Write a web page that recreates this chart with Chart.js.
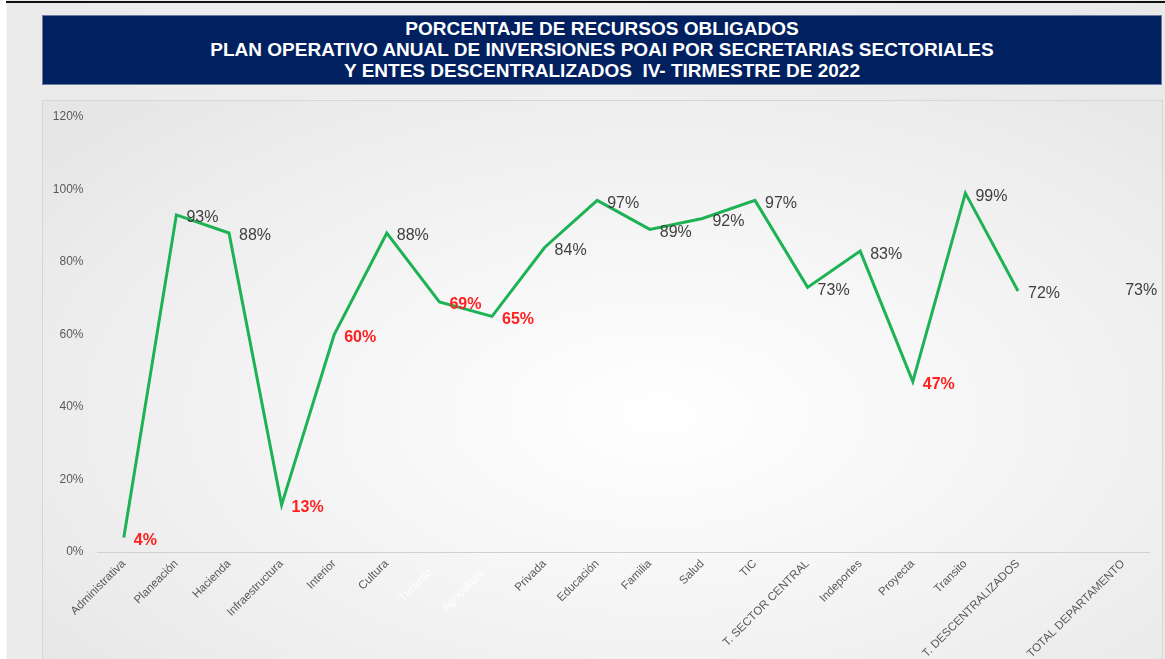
<!DOCTYPE html>
<html>
<head>
<meta charset="utf-8">
<script src="https://cdn.jsdelivr.net/npm/chart.js@4.4.1/dist/chart.umd.min.js"></script>
<style>
  html, body { margin:0; padding:0; }
  body { width:1165px; height:659px; position:relative; overflow:hidden;
         background: linear-gradient(90deg, #ffffff 0px, #ffffff 6px, #ebebeb 7px, #eeeeee 600px, #e9e9e9 1165px); }
  #topline { position:absolute; left:6px; top:1px; width:1159px; height:2px; background:#111; }
  #title { position:absolute; left:42px; top:15px; width:1120px; height:70px; box-sizing:border-box;
           background:#002060; border:1px solid #6a7aa0; color:#fff;
           font-family:"Liberation Sans", Arial, sans-serif; font-weight:bold; font-size:19px;
           line-height:21px; text-align:center; padding-top:2px; }
  #panel { position:absolute; left:42px; top:100px; width:1121px; height:570px; box-sizing:border-box;
           border:1px solid #d6d6d6;
           background: radial-gradient(ellipse 70% 75% at 55% 55%, #ffffff 0%, #f6f6f6 40%, #ececec 80%, #e6e6e6 100%); }
  #wrap { position:absolute; left:43px; top:100px; width:1120px; height:559px; }
</style>
</head>
<body>
<div id="topline"></div>
<div id="title">PORCENTAJE DE RECURSOS OBLIGADOS<br>PLAN OPERATIVO ANUAL DE INVERSIONES POAI POR SECRETARIAS SECTORIALES<br>Y ENTES DESCENTRALIZADOS&nbsp; IV- TIRMESTRE DE 2022</div>
<div id="panel"></div>
<div id="wrap"><canvas id="c" width="1120" height="559"></canvas></div>
<script>
const categories = ["Administrativa","Planeación","Hacienda","Infraestructura","Interior","Cultura",
  "Turismo ...","Agricultura ...","Privada","Educación","Familia","Salud","TIC","T. SECTOR CENTRAL",
  "Indeportes","Proyecta","Transito","T. DESCENTRALIZADOS","","TOTAL DEPARTAMENTO"];
const percentObligado = [4,93,88,13,60,88,69,65,84,97,89,92,97,73,83,47,99,72,null,73];
const hiddenLabels = ["Turismo ...","Agricultura ..."];
const redThreshold = 70;
const yTicks = [0,20,40,60,80,100,120];

const labelPlugin = {
  id:'valueLabels',
  afterDatasetsDraw(chart){
    const ctx = chart.ctx;
    const meta = chart.getDatasetMeta(0);
    const data = chart.data.datasets[0].data;
    ctx.save();
    ctx.textBaseline = 'middle';
    ctx.textAlign = 'left';
    meta.data.forEach((pt,i)=>{
      const v = data[i];
      if (v===null || v===undefined) return;
      const red = v < redThreshold;
      const isolated = i > 0 && data[i-1] === null;
      ctx.font = (red ? 'bold ' : '') + '16px "Liberation Sans", Arial, sans-serif';
      ctx.fillStyle = red ? '#ff2020' : '#404040';
      ctx.fillText(v + '%', pt.x + (isolated ? 2 : 10), pt.y + 3);
    });
    ctx.restore();
  }
};

new Chart(document.getElementById('c'), {
  type:'line',
  data:{ labels:categories, datasets:[{ data:percentObligado, borderColor:'#1db355', borderWidth:3,
         pointRadius:0, pointHoverRadius:0, tension:0, spanGaps:false, fill:false }]},
  options:{
    responsive:false, animation:false,
    layout:{ padding:{ left:0, right:13.5, top:17, bottom:0 } },
    plugins:{ legend:{display:false}, tooltip:{enabled:false} },
    scales:{
      x:{ type:'category', offset:true,
          grid:{ display:false, drawTicks:false },
          border:{ display:true, color:'#d0d0d0', width:1 },
          ticks:{ autoSkip:false, maxRotation:45, minRotation:45, padding:5,
                  font:{ family:'"Liberation Sans", Arial, sans-serif', size:11.5 },
                  color:(c)=> hiddenLabels.includes(categories[c.index]) ? '#ffffff' : '#595959' },
          afterFit(s){ s.height = 107; } },
      y:{ min:0, max:120,
          grid:{ display:false, drawTicks:false },
          border:{ display:false },
          afterBuildTicks(s){ s.ticks = yTicks.map(v=>({value:v})); },
          ticks:{ padding:14, callback:(v)=> v + '%',
                  font:{ family:'"Liberation Sans", Arial, sans-serif', size:12 }, color:'#595959' },
          afterFit(s){ s.width = 54.5; s.paddingTop = 0; s.paddingBottom = 0; } }
    }
  },
  plugins:[labelPlugin]
});
</script>
</body>
</html>
